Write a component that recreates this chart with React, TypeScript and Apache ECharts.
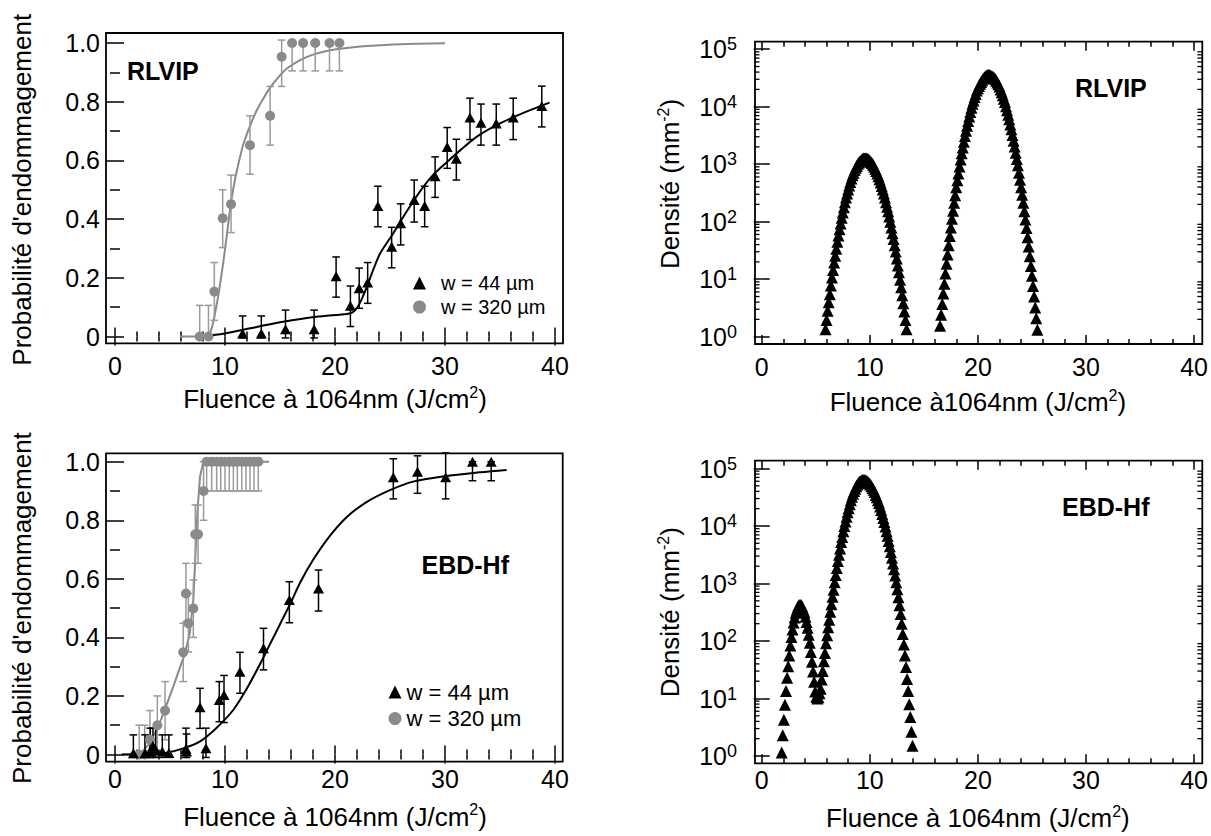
import React, { useEffect, useRef } from "react";
import * as echarts from "echarts";

const FONT = '"Liberation Sans", Arial, Helvetica, sans-serif';

// ---------------- axes / ticks ----------------
const fluenceTicks = [0, 10, 20, 30, 40];
const probabilityTicks = [0, 0.2, 0.4, 0.6, 0.8, 1.0];
const densityDecades = [1, 10, 100, 1000, 10000, 100000];
const logMinorMultipliers = [2, 3, 4, 5, 6, 7, 8, 9];

const N44 = "w = 44 µm";
const N320 = "w = 320 µm";

// ---------------- RLVIP damage probability: [fluence, P, lower, upper] ----------------
const rlvip44 = [
  [11.6, 0.01, -0.005, 0.07],
  [13.3, 0.01, -0.005, 0.07],
  [15.5, 0.025, -0.005, 0.09],
  [18.1, 0.025, -0.005, 0.09],
  [20.1, 0.205, 0.134, 0.271],
  [21.4, 0.105, 0.034, 0.172],
  [22.2, 0.164, 0.096, 0.233],
  [22.97, 0.184, 0.113, 0.252],
  [23.9, 0.445, 0.374, 0.512],
  [25.15, 0.306, 0.234, 0.372],
  [25.97, 0.386, 0.312, 0.452],
  [27.2, 0.465, 0.39, 0.533],
  [28.15, 0.445, 0.374, 0.512],
  [29.1, 0.546, 0.474, 0.612],
  [30.2, 0.646, 0.573, 0.712],
  [31.03, 0.606, 0.533, 0.672],
  [32.27, 0.746, 0.671, 0.812],
  [33.27, 0.728, 0.652, 0.792],
  [34.66, 0.726, 0.652, 0.792],
  [36.2, 0.746, 0.671, 0.812],
  [38.8, 0.785, 0.714, 0.853],
];
const rlvip320 = [
  [7.7, 0, -0.005, 0.106],
  [8.5, 0, -0.005, 0.106],
  [9.03, 0.153, 0.055, 0.252],
  [9.79, 0.403, 0.303, 0.5],
  [10.55, 0.451, 0.354, 0.55],
  [12.27, 0.652, 0.553, 0.752],
  [14.1, 0.752, 0.652, 0.852],
  [15.15, 0.953, 0.852, 1.01],
  [16.1, 1, 0.905, 1],
  [17.1, 1, 0.905, 1],
  [18.2, 1, 0.905, 1],
  [19.5, 1, 0.905, 1],
  [20.4, 1, 0.905, 1],
];
const rlvip44Fit = [
  [8.0, 0], [9.85, 0.009], [12.3, 0.028], [15.3, 0.05], [18.3, 0.067], [21.1, 0.077],
  [21.6, 0.082], [22.0, 0.097], [22.4, 0.125], [22.9, 0.17], [23.5, 0.23], [24.1, 0.283],
  [25.3, 0.352], [26.5, 0.425], [27.7, 0.493], [28.9, 0.55], [30.2, 0.595], [31.4, 0.635],
  [32.9, 0.681], [35.0, 0.726], [37.4, 0.766], [39.5, 0.797],
];
const rlvip320Fit = [
  [5.9, 0], [7.7, 0], [8.5, 0.005], [8.8, 0.03], [9.1, 0.08], [9.5, 0.165], [9.85, 0.255],
  [10.15, 0.34], [10.45, 0.43], [10.76, 0.505], [11.2, 0.585], [11.67, 0.655], [12.3, 0.72],
  [12.88, 0.77], [13.5, 0.812], [14.1, 0.848], [15.0, 0.89], [15.6, 0.912], [16.5, 0.935],
  [17.4, 0.952], [18.5, 0.966], [19.85, 0.977], [21.5, 0.985], [22.9, 0.99], [25.9, 0.996],
  [30, 0.999],
];

// ---------------- EBD-Hf damage probability: [fluence, P, lower, upper] ----------------
const ebd44 = [
  [1.67, 0.004, -0.01, 0.067],
  [2.73, 0.004, -0.01, 0.067],
  [3.2, 0.01, -0.01, 0.09],
  [3.45, 0.03, -0.01, 0.09],
  [3.7, 0.015, -0.01, 0.09],
  [4.3, 0.01, -0.01, 0.067],
  [4.9, 0.005, -0.01, 0.067],
  [6.45, 0.02, -0.01, 0.09],
  [6.5, 0.01, -0.01, 0.07],
  [8.27, 0.021, -0.01, 0.09],
  [7.73, 0.161, 0.089, 0.226],
  [9.48, 0.186, 0.112, 0.249],
  [9.91, 0.203, 0.109, 0.27],
  [11.36, 0.283, 0.209, 0.349],
  [13.5, 0.363, 0.289, 0.431],
  [15.85, 0.528, 0.45, 0.59],
  [18.5, 0.567, 0.49, 0.63],
  [25.3, 0.947, 0.873, 1.01],
  [27.5, 0.966, 0.892, 1.02],
  [30.06, 0.947, 0.873, 1.03],
  [32.5, 1.0, 0.935, 1.0],
  [34.2, 1.0, 0.935, 1.0],
];
const ebd320 = [
  [2.2, 0, -0.01, 0.1],
  [2.7, 0, -0.01, 0.1],
  [3.18, 0.05, -0.005, 0.15],
  [3.85, 0.1, 0.0, 0.2],
  [4.55, 0.15, 0.05, 0.249],
  [6.2, 0.349, 0.249, 0.448],
  [6.45, 0.55, 0.454, 0.653],
  [6.67, 0.448, 0.35, 0.55],
  [7.12, 0.499, 0.4, 0.596],
  [7.3, 0.752, 0.653, 0.852],
  [7.55, 0.752, 0.653, 0.852],
  [8.05, 0.9, 0.8, 1.0],
  [8.33, 1, 0.9, 1], [8.79, 1, 0.9, 1], [9.24, 1, 0.9, 1], [9.61, 1, 0.9, 1],
  [10.0, 1, 0.9, 1], [10.39, 1, 0.9, 1], [10.76, 1, 0.9, 1], [11.12, 1, 0.9, 1],
  [11.52, 1, 0.9, 1], [11.91, 1, 0.9, 1], [12.27, 1, 0.9, 1], [12.64, 1, 0.9, 1],
  [13.03, 1, 0.9, 1],
];
const ebd44Fit = [
  [0.6, 0], [3.2, 0], [4.7, 0.006], [6.2, 0.021], [7.7, 0.044], [9.2, 0.09], [10.75, 0.152],
  [12.0, 0.226], [13.2, 0.31], [14.0, 0.37], [15.0, 0.445], [16.0, 0.52], [16.8, 0.585],
  [18.0, 0.664], [19.5, 0.745], [21.1, 0.812], [22.9, 0.863], [25.0, 0.903], [27.1, 0.932],
  [30.15, 0.951], [33.2, 0.964], [35.6, 0.972],
];
const ebd320Fit = [
  [0.6, 0], [2.2, 0], [3.18, 0.038], [4.24, 0.124], [5.3, 0.232], [6.36, 0.346], [6.8, 0.414],
  [7.12, 0.528], [7.36, 0.72], [7.5, 0.835], [7.73, 0.949], [8.03, 1.0], [14.0, 1.0],
];

// ---------------- defect densities: [fluence, log10(density / mm^-2)] ----------------
const rlvipDensityLow = [
  [5.9, 0.13], [6.0, 0.29], [6.1, 0.45], [6.2, 0.6], [6.3, 0.74], [6.4, 0.89], [6.5, 1.03],
  [6.6, 1.16], [6.7, 1.29], [6.8, 1.41], [6.9, 1.53], [7.0, 1.65], [7.1, 1.76], [7.2, 1.87],
  [7.3, 1.97], [7.4, 2.07], [7.5, 2.16], [7.6, 2.25], [7.7, 2.34], [7.8, 2.42], [7.9, 2.49],
  [8.0, 2.56], [8.1, 2.63], [8.2, 2.69], [8.3, 2.75], [8.4, 2.81], [8.5, 2.85], [8.6, 2.9],
  [8.7, 2.94], [8.8, 2.97], [8.9, 3.01], [9.0, 3.03], [9.1, 3.05], [9.2, 3.07], [9.3, 3.09],
  [9.4, 3.1], [9.5, 3.1], [9.6, 3.1], [9.7, 3.1], [9.8, 3.09], [9.9, 3.08], [10.0, 3.06],
  [10.1, 3.04], [10.2, 3.02], [10.3, 2.99], [10.4, 2.96], [10.5, 2.92], [10.6, 2.88],
  [10.7, 2.84], [10.8, 2.79], [10.9, 2.74], [11.0, 2.68], [11.1, 2.62], [11.2, 2.56],
  [11.3, 2.49], [11.4, 2.42], [11.5, 2.34], [11.6, 2.26], [11.7, 2.18], [11.8, 2.09],
  [11.9, 2.0], [12.0, 1.9], [12.1, 1.8], [12.2, 1.7], [12.3, 1.59], [12.4, 1.48], [12.5, 1.36],
  [12.6, 1.24], [12.7, 1.12], [12.8, 0.99], [12.9, 0.86], [13.0, 0.72], [13.1, 0.58],
  [13.2, 0.44], [13.3, 0.29], [13.4, 0.13],
];
const rlvipDensityHigh = [
  [16.5, 0.19], [16.6, 0.38], [16.7, 0.57], [16.8, 0.75], [16.9, 0.92], [17.0, 1.1], [17.1, 1.27],
  [17.2, 1.43], [17.3, 1.59], [17.4, 1.75], [17.5, 1.9], [17.6, 2.05], [17.7, 2.19], [17.8, 2.33],
  [17.9, 2.46], [18.0, 2.6], [18.1, 2.72], [18.2, 2.84], [18.3, 2.96], [18.4, 3.08], [18.5, 3.19],
  [18.6, 3.29], [18.7, 3.39], [18.8, 3.49], [18.9, 3.58], [19.0, 3.67], [19.1, 3.75], [19.2, 3.83],
  [19.3, 3.91], [19.4, 3.98], [19.5, 4.05], [19.6, 4.11], [19.7, 4.17], [19.8, 4.22], [19.9, 4.28],
  [20.0, 4.32], [20.1, 4.36], [20.2, 4.4], [20.3, 4.43], [20.4, 4.46], [20.5, 4.49], [20.6, 4.51],
  [20.7, 4.53], [20.8, 4.54], [20.9, 4.55], [21.0, 4.55], [21.1, 4.55], [21.2, 4.54], [21.3, 4.53],
  [21.4, 4.52], [21.5, 4.5], [21.6, 4.48], [21.7, 4.45], [21.8, 4.42], [21.9, 4.39], [22.0, 4.35],
  [22.1, 4.3], [22.2, 4.25], [22.3, 4.2], [22.4, 4.14], [22.5, 4.08], [22.6, 4.01], [22.7, 3.94],
  [22.8, 3.86], [22.9, 3.78], [23.0, 3.69], [23.1, 3.61], [23.2, 3.51], [23.3, 3.41], [23.4, 3.31],
  [23.5, 3.2], [23.6, 3.09], [23.7, 2.98], [23.8, 2.85], [23.9, 2.73], [24.0, 2.6], [24.1, 2.47],
  [24.2, 2.33], [24.3, 2.18], [24.4, 2.04], [24.5, 1.89], [24.6, 1.73], [24.7, 1.57], [24.8, 1.4],
  [24.9, 1.23], [25.0, 1.06], [25.1, 0.88], [25.2, 0.7], [25.3, 0.51], [25.4, 0.32], [25.5, 0.12],
];
const ebdDensity = [
  [1.85, 0.06], [1.95, 0.36], [2.05, 0.63], [2.15, 0.89], [2.25, 1.13], [2.35, 1.36], [2.45, 1.56],
  [2.55, 1.75], [2.65, 1.92], [2.75, 2.07], [2.85, 2.2], [2.95, 2.32], [3.05, 2.41], [3.15, 2.49],
  [3.25, 2.55], [3.35, 2.6], [3.45, 2.62], [3.55, 2.63], [3.65, 2.62], [3.75, 2.6], [3.85, 2.55],
  [3.95, 2.5], [4.05, 2.42], [4.15, 2.33], [4.25, 2.23], [4.35, 2.11], [4.45, 1.97], [4.55, 1.81],
  [4.65, 1.64], [4.75, 1.47], [4.85, 1.29], [4.95, 1.12], [5.05, 1.03], [5.15, 1.0], [5.25, 1.02],
  [5.35, 1.09], [5.45, 1.17], [5.55, 1.33], [5.65, 1.48], [5.75, 1.65], [5.85, 1.79], [5.95, 1.96],
  [6.05, 2.1], [6.15, 2.24], [6.25, 2.37], [6.35, 2.51], [6.45, 2.64], [6.55, 2.77], [6.65, 2.89],
  [6.75, 3.02], [6.85, 3.15], [6.95, 3.27], [7.05, 3.39], [7.15, 3.5], [7.25, 3.61], [7.35, 3.72],
  [7.45, 3.81], [7.55, 3.91], [7.65, 4.0], [7.75, 4.08], [7.85, 4.16], [7.95, 4.24], [8.05, 4.31],
  [8.15, 4.38], [8.25, 4.45], [8.35, 4.51], [8.45, 4.56], [8.55, 4.61], [8.65, 4.65], [8.75, 4.69],
  [8.85, 4.72], [8.95, 4.75], [9.05, 4.77], [9.15, 4.78], [9.25, 4.79], [9.35, 4.8], [9.45, 4.8],
  [9.55, 4.8], [9.65, 4.79], [9.75, 4.78], [9.85, 4.76], [9.95, 4.74], [10.05, 4.72], [10.15, 4.69],
  [10.25, 4.66], [10.35, 4.63], [10.45, 4.59], [10.55, 4.54], [10.65, 4.5], [10.75, 4.45],
  [10.85, 4.4], [10.95, 4.34], [11.05, 4.28], [11.15, 4.21], [11.25, 4.14], [11.35, 4.07],
  [11.45, 3.99], [11.55, 3.91], [11.65, 3.83], [11.75, 3.74], [11.85, 3.65], [11.95, 3.55],
  [12.05, 3.45], [12.15, 3.35], [12.25, 3.25], [12.35, 3.14], [12.45, 3.02], [12.55, 2.9],
  [12.65, 2.76], [12.75, 2.62], [12.85, 2.47], [12.95, 2.3], [13.05, 2.12], [13.15, 1.94],
  [13.25, 1.75], [13.35, 1.55], [13.45, 1.34], [13.55, 1.13], [13.65, 0.9], [13.75, 0.68],
  [13.85, 0.42], [13.95, 0.18],
];

// ---------------- layout ----------------
type Panel = {
  grid: { left: number; top: number; width: number; height: number };
  frame: [number, number, number, number];
  off: { b: number; t: number; l: number; r: number };
  log: boolean;
  xLabelMargin: number;
  xName: string;
  xNameGap: number;
  yNameGap: number;
  yNamePad: number[];
  tag: string;
  tagPos: [number, number];
};

const panels: Panel[] = [
  {
    grid: { left: 115, top: 43, width: 440, height: 293.5 },
    frame: [106, 33, 457, 310.3],
    off: { b: 6.8, t: 10, l: 9, r: 8 },
    log: false,
    xLabelMargin: 10,
    xName: "{a|Fluence à 1064nm (J/cm}{s|2}{a|)}",
    xNameGap: 41,
    yNameGap: 69,
    yNamePad: [0, 0, 0, 0],
    tag: "RLVIP",
    tagPos: [127, 70.5],
  },
  {
    grid: { left: 761.7, top: 49.2, width: 432.8, height: 287.5 },
    frame: [755, 41.7, 447.3, 302.3],
    off: { b: 7.3, t: 7.5, l: 6.7, r: 7.8 },
    log: true,
    xLabelMargin: 10,
    xName: "{a|Fluence à1064nm (J/cm}{s|2}{a|)}",
    xNameGap: 43,
    yNameGap: 70,
    yNamePad: [0, 0, 0, 18],
    tag: "RLVIP",
    tagPos: [1075, 87.5],
  },
  {
    grid: { left: 115, top: 461.7, width: 440, height: 292.8 },
    frame: [106, 453.3, 456.7, 308.4],
    off: { b: 7.2, t: 8.4, l: 9, r: 7.7 },
    log: false,
    xLabelMargin: 4.5,
    xName: "{a|Fluence à 1064nm (J/cm}{s|2}{a|)}",
    xNameGap: 40,
    yNameGap: 69,
    yNamePad: [0, 0, 0, 0],
    tag: "EBD-Hf",
    tagPos: [421.5, 565.3],
  },
  {
    grid: { left: 761.7, top: 468.5, width: 432.8, height: 287.5 },
    frame: [755, 460.7, 447.3, 302.6],
    off: { b: 7.3, t: 7.8, l: 6.7, r: 7.8 },
    log: true,
    xLabelMargin: 4.5,
    xName: "{a|Fluence à 1064nm (J/cm}{s|2}{a|)}",
    xNameGap: 40,
    yNameGap: 70,
    yNamePad: [0, 0, 0, 0],
    tag: "EBD-Hf",
    tagPos: [1062, 507.3],
  },
];

const tickLine = { color: "#000", width: 1.5 };
const richTitle = {
  a: { fontSize: 26, lineHeight: 30, fontFamily: FONT, color: "#000" },
  s: { fontSize: 16, lineHeight: 12, verticalAlign: "top", fontFamily: FONT, color: "#000" },
};

function buildXAxes(p: Panel, gi: number) {
  const common: any = {
    gridIndex: gi,
    type: "value",
    min: fluenceTicks[0],
    max: fluenceTicks[fluenceTicks.length - 1],
    interval: fluenceTicks[1] - fluenceTicks[0],
    splitLine: { show: false },
    axisLine: { show: false },
    axisTick: { show: true, inside: true, length: 9, lineStyle: tickLine },
    minorTick: { show: true, splitNumber: 5, length: 5, lineStyle: tickLine },
  };
  return [
    {
      ...common,
      position: "bottom",
      offset: p.off.b,
      axisLabel: { show: true, margin: p.xLabelMargin, fontSize: 25, color: "#000", fontFamily: FONT },
      name: p.xName,
      nameLocation: "middle",
      nameGap: p.xNameGap,
      nameTextStyle: { rich: richTitle },
    },
    { ...common, position: "top", offset: p.off.t, axisLabel: { show: false } },
  ];
}

function buildYAxes(p: Panel, gi: number) {
  if (!p.log) {
    const common: any = {
      gridIndex: gi,
      type: "value",
      min: probabilityTicks[0],
      max: probabilityTicks[probabilityTicks.length - 1],
      interval: probabilityTicks[1] - probabilityTicks[0],
      splitLine: { show: false },
      axisLine: { show: false },
      axisTick: { show: true, inside: true, length: 9, lineStyle: tickLine },
      minorTick: { show: true, splitNumber: 2, length: 5, lineStyle: tickLine },
    };
    return [
      {
        ...common,
        position: "left",
        offset: p.off.l,
        axisLabel: {
          show: true,
          margin: 6,
          fontSize: 25,
          color: "#000",
          fontFamily: FONT,
          formatter: (v: number) => (Math.abs(v) < 1e-9 ? "0" : v.toFixed(1)),
        },
        name: "Probabilité d'endommagement",
        nameLocation: "middle",
        nameGap: p.yNameGap,
        nameTextStyle: { fontSize: 26, lineHeight: 30, fontFamily: FONT, color: "#000", padding: p.yNamePad },
      },
      { ...common, position: "right", offset: p.off.r, axisLabel: { show: false } },
    ];
  }
  const common: any = {
    gridIndex: gi,
    type: "log",
    logBase: 10,
    min: densityDecades[0],
    max: densityDecades[densityDecades.length - 1],
    splitLine: { show: false },
    axisLine: { show: false },
    axisTick: { show: true, inside: true, length: 8, lineStyle: tickLine },
    minorTick: { show: false },
  };
  return [
    {
      ...common,
      position: "left",
      offset: p.off.l,
      axisLabel: {
        show: true,
        margin: 18,
        formatter: (v: number) => `{b|10}{e|${Math.round(Math.log10(v))}}`,
        rich: {
          b: { fontSize: 25, lineHeight: 28, fontFamily: FONT, color: "#000" },
          e: { fontSize: 18, lineHeight: 13, verticalAlign: "top", fontFamily: FONT, color: "#000" },
        },
      },
      name: "{a|Densité (mm}{s|-2}{a|)}",
      nameLocation: "middle",
      nameGap: p.yNameGap,
      nameTextStyle: { rich: richTitle, padding: p.yNamePad },
    },
    { ...common, position: "right", offset: p.off.r, axisLabel: { show: false } },
  ];
}

function errorBars(data: number[][], gi: number, color: string) {
  return {
    type: "custom",
    xAxisIndex: gi * 2,
    yAxisIndex: gi * 2,
    silent: true,
    z: 3,
    encode: { x: 0, y: [1, 2, 3] },
    data,
    renderItem: (_params: any, api: any) => {
      const x = api.value(0);
      const p = api.coord([x, api.value(1)]);
      const lo = api.coord([x, api.value(2)]);
      const hi = api.coord([x, api.value(3)]);
      const style = { stroke: color, lineWidth: 1.5 };
      const w = 3.8;
      return {
        type: "group",
        children: [
          { type: "line", shape: { x1: p[0], y1: hi[1], x2: p[0], y2: lo[1] }, style },
          { type: "line", shape: { x1: p[0] - w, y1: hi[1], x2: p[0] + w, y2: hi[1] }, style },
          { type: "line", shape: { x1: p[0] - w, y1: lo[1], x2: p[0] + w, y2: lo[1] }, style },
        ],
      };
    },
  };
}

function logMinorTickSeries(p: Panel, gi: number) {
  const ticks: number[][] = [];
  densityDecades.slice(0, -1).forEach((d) => logMinorMultipliers.forEach((m) => ticks.push([0, d * m])));
  return {
    type: "custom",
    xAxisIndex: gi * 2,
    yAxisIndex: gi * 2,
    silent: true,
    z: 1,
    encode: { x: 0, y: 1 },
    data: ticks,
    renderItem: (params: any, api: any) => {
      const y = api.coord([0, api.value(1)])[1];
      const cs = params.coordSys;
      const l = cs.x - p.off.l;
      const r = cs.x + cs.width + p.off.r;
      const style = { stroke: "#000", lineWidth: 1.3 };
      return {
        type: "group",
        children: [
          { type: "line", shape: { x1: l, y1: y, x2: l + 4.5, y2: y }, style },
          { type: "line", shape: { x1: r - 4.5, y1: y, x2: r, y2: y }, style },
        ],
      };
    },
  };
}

const GRAY = "#8a8a8a";
const GRAY_BAR = "#9a9a9a";

function fitLine(data: number[][], gi: number, color: string, smooth: number | boolean) {
  return {
    type: "line",
    xAxisIndex: gi * 2,
    yAxisIndex: gi * 2,
    data,
    smooth,
    showSymbol: false,
    symbol: "none",
    clip: false,
    silent: true,
    z: 2,
    lineStyle: { color, width: 2 },
  };
}

function scatter(name: string, data: number[][], gi: number, tri: boolean, size: any, z: number) {
  return {
    type: "scatter",
    name,
    xAxisIndex: gi * 2,
    yAxisIndex: gi * 2,
    data,
    symbol: tri ? "triangle" : "circle",
    symbolSize: size,
    clip: false,
    silent: true,
    z,
    itemStyle: { color: tri ? "#000" : GRAY, opacity: 1 },
  };
}

function buildOption() {
  const xAxis: any[] = [];
  const yAxis: any[] = [];
  panels.forEach((p, i) => {
    xAxis.push(...buildXAxes(p, i));
    yAxis.push(...buildYAxes(p, i));
  });

  const pts = (a: number[][]) => a.map((r) => [r[0], r[1]]);
  const dens = (a: number[][]) => a.map(([x, e]) => [x, Math.pow(10, e)]);

  const series: any[] = [
    // panel 0: RLVIP probability
    fitLine(rlvip320Fit, 0, GRAY, 0.3),
    fitLine(rlvip44Fit, 0, "#000", 0.25),
    errorBars(rlvip320, 0, GRAY_BAR),
    errorBars(rlvip44, 0, "#000"),
    scatter(N320, pts(rlvip320), 0, false, 10, 4),
    scatter(N44, pts(rlvip44), 0, true, [11, 10], 5),
    // panel 1: RLVIP density
    logMinorTickSeries(panels[1], 1),
    scatter("RLVIP densité 1", dens(rlvipDensityLow), 1, true, [12, 12], 5),
    scatter("RLVIP densité 2", dens(rlvipDensityHigh), 1, true, [12, 12], 5),
    // panel 2: EBD-Hf probability
    fitLine(ebd320Fit, 2, GRAY, false),
    fitLine(ebd44Fit, 2, "#000", 0.3),
    errorBars(ebd320, 2, GRAY_BAR),
    errorBars(ebd44, 2, "#000"),
    scatter(N320, pts(ebd320), 2, false, 10, 4),
    scatter(N44, pts(ebd44), 2, true, [11, 10], 5),
    // panel 3: EBD-Hf density
    logMinorTickSeries(panels[3], 3),
    scatter("EBD-Hf densité", dens(ebdDensity), 3, true, [12, 12], 5),
  ];

  const graphic: any[] = [];
  panels.forEach((p) => {
    graphic.push({
      type: "rect",
      silent: true,
      z: 10,
      shape: { x: p.frame[0], y: p.frame[1], width: p.frame[2], height: p.frame[3] },
      style: { fill: "none", stroke: "#000", lineWidth: 1.8 },
    });
    graphic.push({
      type: "text",
      silent: true,
      z: 10,
      x: p.tagPos[0],
      y: p.tagPos[1],
      style: {
        text: p.tag,
        font: `bold 25px ${FONT}`,
        fill: "#000",
        align: "left",
        verticalAlign: "middle",
      },
    });
  });

  const legendData = [
    { name: N44, icon: "triangle" },
    { name: N320, icon: "circle" },
  ];

  return {
    animation: false,
    backgroundColor: "#fff",
    textStyle: { fontFamily: FONT, color: "#000" },
    grid: panels.map((p) => ({ ...p.grid, containLabel: false, show: false })),
    xAxis,
    yAxis,
    legend: [
      {
        left: 408,
        top: 267,
        orient: "vertical",
        itemWidth: 13,
        itemHeight: 13,
        itemGap: 2,
        selectedMode: false,
        data: legendData,
        textStyle: { fontSize: 20, lineHeight: 22, color: "#000", fontFamily: FONT, padding: [0, 0, 0, 10] },
      },
      {
        left: 383.5,
        top: 675,
        orient: "vertical",
        itemWidth: 13,
        itemHeight: 13,
        itemGap: 2.6,
        selectedMode: false,
        data: legendData,
        textStyle: { fontSize: 22, lineHeight: 24, color: "#000", fontFamily: FONT },
      },
    ],
    series,
    graphic,
  };
}

export default function App() {
  const ref = useRef<HTMLDivElement>(null);
  useEffect(() => {
    if (!ref.current) return;
    const chart = echarts.init(ref.current, null, { renderer: "svg" });
    chart.setOption(buildOption() as any);
    return () => chart.dispose();
  }, []);
  return (
    <div
      ref={ref}
      style={{ position: "absolute", left: 0, top: 0, width: 1211, height: 836, background: "#fff" }}
    />
  );
}
